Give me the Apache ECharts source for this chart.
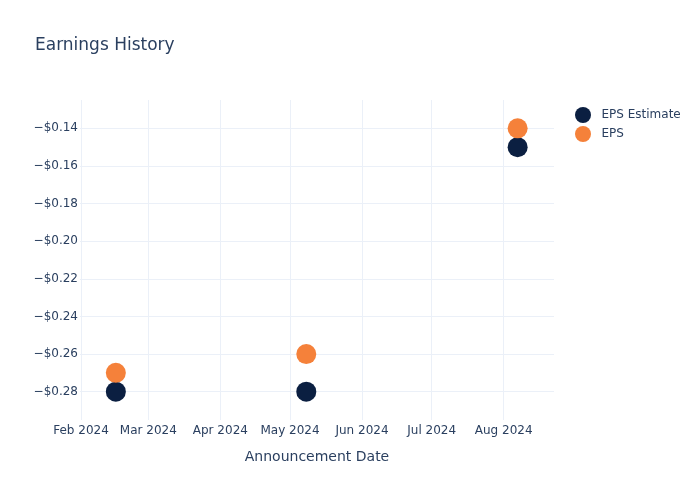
<!DOCTYPE html>
<html>
<head>
<meta charset="utf-8">
<script src="https://cdn.jsdelivr.net/npm/echarts@6/dist/echarts.min.js"></script>
<style>html,body{margin:0;padding:0;background:#fff}#c{width:700px;height:500px}</style>
</head>
<body>
<div id="c"></div>
<script>
var dates = ['2024-02-16', '2024-05-08', '2024-08-07'];
var epsEstimate = [-0.28, -0.28, -0.15];
var eps = [-0.27, -0.26, -0.14];
var seriesNames = ['EPS Estimate', 'EPS'];
var monthNames = ['Jan','Feb','Mar','Apr','May','Jun','Jul','Aug','Sep','Oct','Nov','Dec'];

var DAY = 86400000;
var xMin = new Date(2024, 1, 1).getTime() - 0.43 * DAY;
var xMax = new Date(2024, 1, 1).getTime() + 203.66 * DAY;
var textColor = '#2a3f5f';
var font = 'DejaVu Sans';

function pairs(vals) {
  return dates.map(function (d, i) { return [d, vals[i]]; });
}

var chart = echarts.init(document.getElementById('c'));
chart.setOption({
  backgroundColor: '#fff',
  animation: false,
  textStyle: { fontFamily: font, color: textColor },
  title: {
    text: 'Earnings History',
    left: 35, top: 37, padding: 0,
    textStyle: { fontFamily: font, fontSize: 17, fontWeight: 'normal', color: textColor }
  },
  legend: {
    left: 575, top: 107, orient: 'vertical', padding: 0,
    itemWidth: 27, itemHeight: 16, itemGap: 3,
    icon: 'circle',
    data: seriesNames,
    textStyle: { fontFamily: font, fontSize: 12, color: textColor }
  },
  grid: { left: 80, top: 100, width: 474, height: 320, containLabel: false },
  xAxis: {
    type: 'time',
    min: xMin, max: xMax,
    minInterval: 28 * DAY, maxInterval: 31 * DAY,
    splitNumber: 7,
    name: 'Announcement Date',
    nameLocation: 'middle', nameGap: 30,
    nameTextStyle: { fontFamily: font, fontSize: 14, color: textColor },
    axisLine: { show: false }, axisTick: { show: false },
    axisLabel: {
      fontFamily: font, fontSize: 12, color: textColor, margin: 5,
      hideOverlap: false,
      formatter: function (v) { var d = new Date(v); return monthNames[d.getMonth()] + ' ' + d.getFullYear(); }
    },
    splitLine: { show: true, showMinLine: false, showMaxLine: false, lineStyle: { color: '#EBF0F8', width: 1 } }
  },
  yAxis: {
    type: 'value',
    min: -0.29505, max: -0.12495,
    splitNumber: 8,
    axisLine: { show: false }, axisTick: { show: false },
    axisLabel: {
      fontFamily: font, fontSize: 12, color: textColor, margin: 2,
      showMinLabel: false, showMaxLabel: false,
      formatter: function (v) { return (v < 0 ? '\u2212' : '') + '$' + Math.abs(v).toFixed(2); }
    },
    splitLine: { show: true, showMinLine: false, showMaxLine: false, lineStyle: { color: '#EBF0F8', width: 1 } }
  },
  series: [
    { name: seriesNames[0], type: 'scatter', symbolSize: 20, data: pairs(epsEstimate), itemStyle: { color: '#0b1f41', opacity: 1 } },
    { name: seriesNames[1], type: 'scatter', symbolSize: 20, data: pairs(eps), itemStyle: { color: '#f5813a', opacity: 1 } }
  ]
});
</script>
</body>
</html>
